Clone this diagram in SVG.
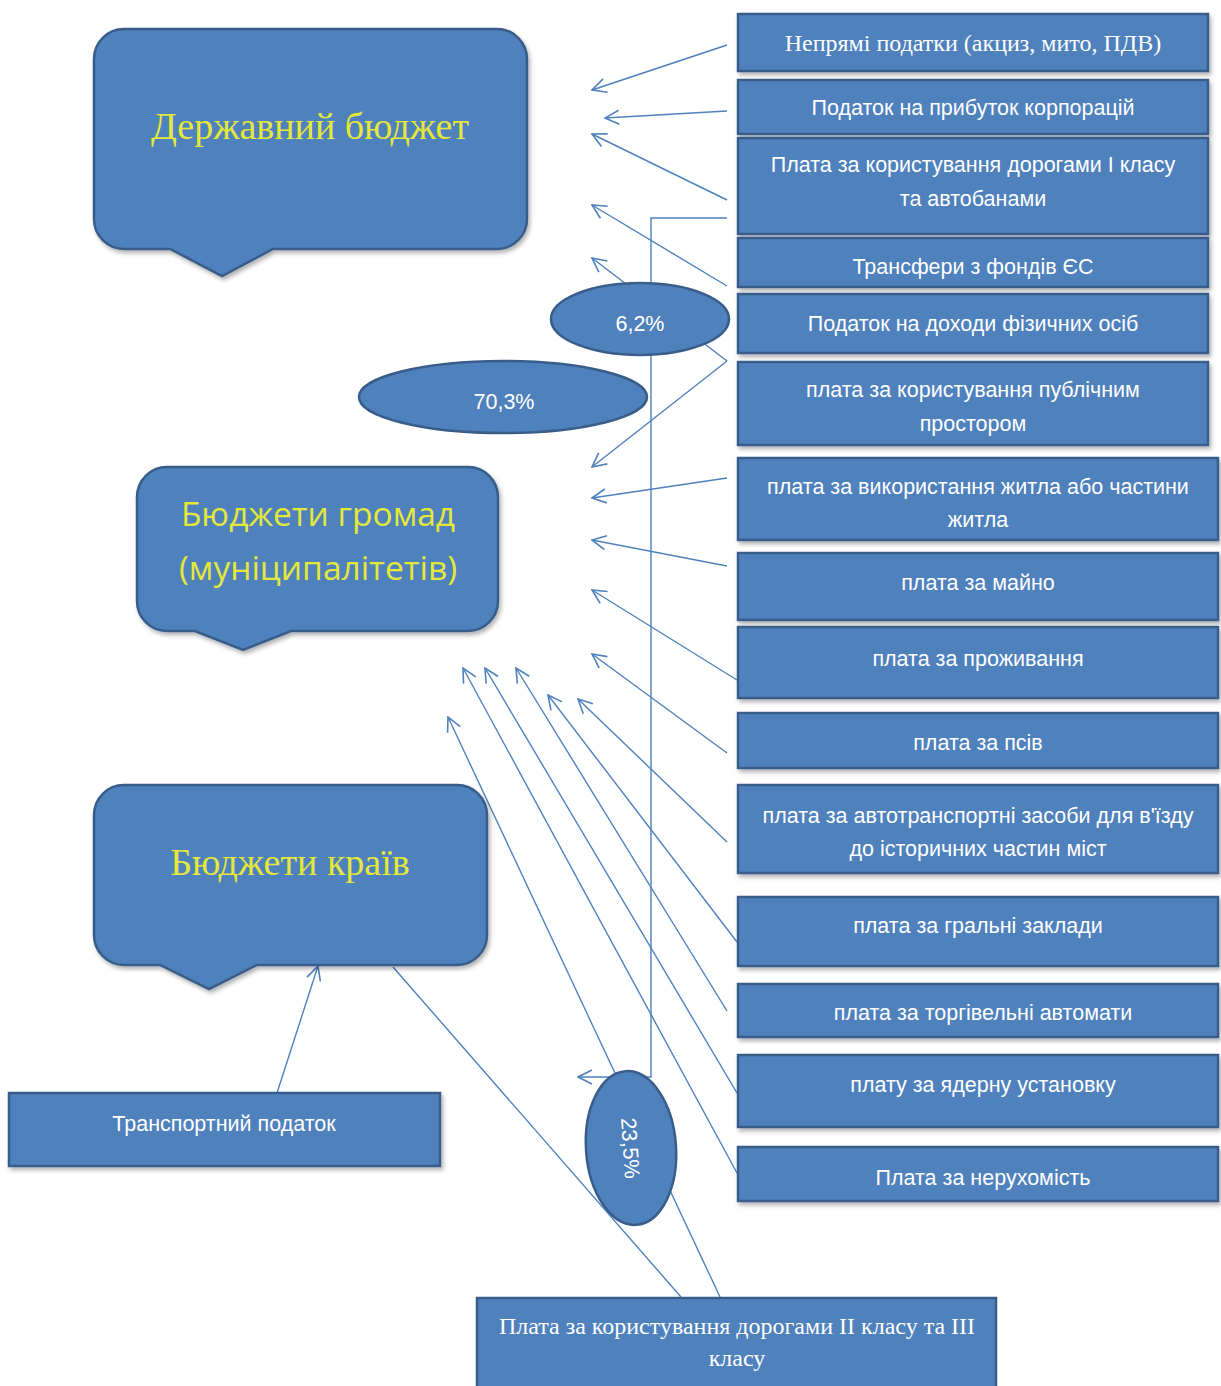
<svg xmlns="http://www.w3.org/2000/svg" width="1221" height="1386" viewBox="0 0 1221 1386">
<style>
.bx{fill:#4f81bd;stroke:#385d8a;stroke-width:2.5}
.t{fill:#fff;font-family:"Liberation Sans",Arial,sans-serif;font-size:21.5px;text-anchor:middle}
.ts{fill:#fff;font-family:"Liberation Serif","Times New Roman",serif;font-size:24px;text-anchor:middle}
.yl{fill:#e4e83a;text-anchor:middle}
.ln{stroke:#4f81bd;stroke-width:1.4;fill:none}
</style>
<defs>
<marker id="ah" viewBox="0 0 16 16" refX="15" refY="8" markerWidth="16" markerHeight="16" markerUnits="userSpaceOnUse" orient="auto">
<path d="M1,1 L15,8 L1,15" fill="none" stroke="#4f81bd" stroke-width="1.6"/>
</marker>
<filter id="sh" x="-5%" y="-10%" width="110%" height="130%">
<feDropShadow dx="2" dy="3" stdDeviation="2" flood-color="#000" flood-opacity="0.3"/>
</filter>
</defs>

<g id="connectors">
<line class="ln" x1="727" y1="45" x2="592" y2="90" marker-end="url(#ah)"/>
<line class="ln" x1="727" y1="111" x2="605" y2="118" marker-end="url(#ah)"/>
<line class="ln" x1="727" y1="200" x2="592" y2="134" marker-end="url(#ah)"/>
<line class="ln" x1="727" y1="286" x2="592" y2="205" marker-end="url(#ah)"/>
<line class="ln" x1="727" y1="361" x2="592" y2="258" marker-end="url(#ah)"/>
<line class="ln" x1="727" y1="361" x2="592" y2="467" marker-end="url(#ah)"/>
<polyline class="ln" points="727,218 651,218 651,1077 578,1077" marker-end="url(#ah)"/>
<line class="ln" x1="727" y1="478" x2="592" y2="498" marker-end="url(#ah)"/>
<line class="ln" x1="727" y1="566" x2="592" y2="540" marker-end="url(#ah)"/>
<line class="ln" x1="737" y1="680" x2="592" y2="590" marker-end="url(#ah)"/>
<line class="ln" x1="727" y1="753" x2="592" y2="654" marker-end="url(#ah)"/>
<line class="ln" x1="727" y1="842" x2="578" y2="699" marker-end="url(#ah)"/>
<line class="ln" x1="737" y1="942" x2="548" y2="695" marker-end="url(#ah)"/>
<line class="ln" x1="727" y1="1011" x2="516" y2="668" marker-end="url(#ah)"/>
<line class="ln" x1="737" y1="1093" x2="485" y2="668" marker-end="url(#ah)"/>
<line class="ln" x1="737" y1="1173" x2="463" y2="668" marker-end="url(#ah)"/>
<line class="ln" x1="720" y1="1297" x2="448" y2="717" marker-end="url(#ah)"/>
<line class="ln" x1="681" y1="1297" x2="393" y2="967"/>
<line class="ln" x1="277" y1="1093" x2="318" y2="966" marker-end="url(#ah)"/>
</g>

<g id="state-budget">
<path class="bx" filter="url(#sh)" d="M124,29 H497 A30,30 0 0 1 527,59 V219 A30,30 0 0 1 497,249 H273 L222,276 L170,249 H124 A30,30 0 0 1 94,219 V59 A30,30 0 0 1 124,29 Z"/>
<text class="yl" x="310" y="139" font-family="Liberation Serif,Times New Roman,serif" font-size="38">Державний бюджет</text>
</g>

<g id="municipal-budgets">
<path class="bx" filter="url(#sh)" d="M167,467 H468 A30,30 0 0 1 498,497 V601 A30,30 0 0 1 468,631 H291 L243,650 L195,631 H167 A30,30 0 0 1 137,601 V497 A30,30 0 0 1 167,467 Z"/>
<text class="yl" x="318" y="526" font-family="Open Sans,Liberation Sans,sans-serif" font-size="33.5">Бюджети громад</text>
<text class="yl" x="318" y="580" font-family="Open Sans,Liberation Sans,sans-serif" font-size="33.5">(муніципалітетів)</text>
</g>

<g id="regional-budgets">
<path class="bx" filter="url(#sh)" d="M124,785 H457 A30,30 0 0 1 487,815 V935 A30,30 0 0 1 457,965 H257 L209,989 L160,965 H124 A30,30 0 0 1 94,935 V815 A30,30 0 0 1 124,785 Z"/>
<text class="yl" x="290" y="875" font-family="Liberation Serif,Times New Roman,serif" font-size="38">Бюджети країв</text>
</g>

<g id="pct-62">
<ellipse class="bx" cx="640" cy="319" rx="89" ry="36"/>
<text class="t" x="640" y="331" font-size="24">6,2%</text>
</g>
<g id="pct-703">
<ellipse class="bx" cx="503" cy="397" rx="144" ry="36"/>
<text class="t" x="504" y="409" font-size="24">70,3%</text>
</g>
<g id="pct-235">
<ellipse class="bx" cx="631" cy="1148" rx="45" ry="77" transform="rotate(-4 631 1148)"/>
<text class="t" x="631" y="1156" font-size="24" transform="rotate(86 631 1148)">23,5%</text>
</g>

<g id="transport-tax">
<rect class="bx" filter="url(#sh)" x="9" y="1093" width="431" height="73"/>
<text class="t" x="224" y="1131" font-size="25.5">Транспортний податок</text>
</g>

<g id="b1"><rect class="bx" filter="url(#sh)" x="738" y="14" width="470" height="57"/><text class="ts" x="973" y="51">Непрямі податки (акциз, мито, ПДВ)</text></g>
<g id="b2"><rect class="bx" filter="url(#sh)" x="738" y="80" width="470" height="54"/><text class="t" x="973" y="115">Податок на прибуток корпорацій</text></g>
<g id="b3"><rect class="bx" filter="url(#sh)" x="738" y="138" width="470" height="96"/><text class="t" x="973" y="172">Плата за користування дорогами І класу</text><text class="t" x="973" y="206">та автобанами</text></g>
<g id="b4"><rect class="bx" filter="url(#sh)" x="738" y="238" width="470" height="49"/><text class="t" x="973" y="274">Трансфери з фондів ЄС</text></g>
<g id="b5"><rect class="bx" filter="url(#sh)" x="738" y="294" width="470" height="59"/><text class="t" x="973" y="331">Податок на доходи фізичних осіб</text></g>
<g id="b6"><rect class="bx" filter="url(#sh)" x="738" y="362" width="470" height="83"/><text class="t" x="973" y="397">плата за користування публічним</text><text class="t" x="973" y="431">простором</text></g>
<g id="b7"><rect class="bx" filter="url(#sh)" x="738" y="458" width="480" height="82"/><text class="t" x="978" y="494">плата за використання житла або частини</text><text class="t" x="978" y="527">житла</text></g>
<g id="b8"><rect class="bx" filter="url(#sh)" x="738" y="553" width="480" height="67"/><text class="t" x="978" y="590">плата за майно</text></g>
<g id="b9"><rect class="bx" filter="url(#sh)" x="738" y="627" width="480" height="71"/><text class="t" x="978" y="666">плата за проживання</text></g>
<g id="b10"><rect class="bx" filter="url(#sh)" x="738" y="713" width="480" height="55"/><text class="t" x="978" y="750">плата за псів</text></g>
<g id="b11"><rect class="bx" filter="url(#sh)" x="738" y="785" width="480" height="88"/><text class="t" x="978" y="823">плата за автотранспортні засоби для в'їзду</text><text class="t" x="978" y="856">до історичних частин міст</text></g>
<g id="b12"><rect class="bx" filter="url(#sh)" x="738" y="897" width="480" height="69"/><text class="t" x="978" y="933">плата за гральні заклади</text></g>
<g id="b13"><rect class="bx" filter="url(#sh)" x="738" y="984" width="480" height="53"/><text class="t" x="983" y="1020">плата за торгівельні автомати</text></g>
<g id="b14"><rect class="bx" filter="url(#sh)" x="738" y="1055" width="480" height="72"/><text class="t" x="983" y="1092">плату за ядерну установку</text></g>
<g id="b15"><rect class="bx" filter="url(#sh)" x="738" y="1147" width="480" height="54"/><text class="t" x="983" y="1185" font-size="25">Плата за нерухомість</text></g>

<g id="bottom-box"><rect class="bx" x="477" y="1298" width="519" height="95"/><text class="ts" x="737" y="1334">Плата за користування дорогами II класу та III</text><text class="ts" x="737" y="1366">класу</text></g>
</svg>
